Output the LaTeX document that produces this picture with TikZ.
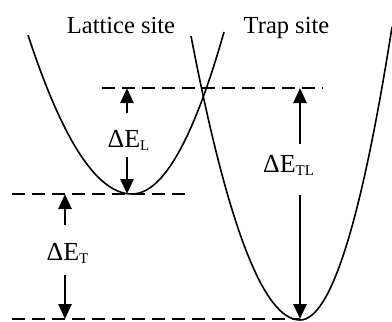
\documentclass[tikz,border=0pt]{standalone}
\usepackage{fontspec}
\setmainfont{Liberation Serif}
\usetikzlibrary{arrows.meta}
\newcommand\lowsub[1]{\raisebox{-3pt}{\fontsize{15}{15}\selectfont #1}}
\begin{document}
\begin{tikzpicture}[x=1pt,y=-1pt,
  curve/.style={line width=1.6pt},
  level/.style={line width=1.5pt, dash pattern=on 13pt off 7pt},
  gaparrow/.style={line width=2.6pt, -{Triangle[length=15pt,width=13pt]}},
  lbl/.style={font=\fontsize{24.5}{28}\selectfont, inner sep=0pt, anchor=base},
  dlbl/.style={font=\fontsize{26}{28}\selectfont, inner sep=0pt, anchor=base},
]
\useasboundingbox (0,0) rectangle (392,322);
% titles
\node[lbl] (lat) at (121,33) {Lattice site};
\node[lbl] (trap) at (286.5,33) {Trap site};
% potential wells
\draw[curve] (28,35) .. controls (62.67,141) and (97.33,194) .. (132,194)
  .. controls (162.67,194) and (193.33,140) .. (224,32);
\draw[curve] (191,36) .. controls (227.33,225.33) and (263.67,320) .. (300,320)
  .. controls (330.67,320) and (361.33,222.33) .. (392,27);
% levels
\coordinate (topL) at (102,88);  \coordinate (topR) at (323,88);
\coordinate (midL) at (12,194);  \coordinate (midR) at (192,194);
\coordinate (botL) at (12,319);  \coordinate (botR) at (300,319);
\draw[level] (topL) -- (topR);
\draw[level] (midL) -- (midR);
\draw[level] (botL) -- (botR);
% labels
\node[dlbl] (dL) at (128.5,147) {ΔE\lowsub{L}};
\node[dlbl] (dT) at (67.5,260) {ΔE\lowsub{T}};
\node[dlbl] (dTL) at (288.5,172) {ΔE\lowsub{TL}};
% arrow ends
\coordinate (aL1) at (127,113); \coordinate (tL1) at (127,88);
\coordinate (aL2) at (127,157); \coordinate (tL2) at (127,194);
\coordinate (aT1) at (65,225);  \coordinate (tT1) at (65,194);
\coordinate (aT2) at (65,275);  \coordinate (tT2) at (65,319);
\coordinate (aTL1) at (300,144); \coordinate (tTL1) at (300,88);
\coordinate (aTL2) at (300,195); \coordinate (tTL2) at (300,319);
\draw[gaparrow] (aL1) -- (tL1);
\draw[gaparrow] (aL2) -- (tL2);
\draw[gaparrow] (aT1) -- (tT1);
\draw[gaparrow] (aT2) -- (tT2);
\draw[gaparrow] (aTL1) -- (tTL1);
\draw[gaparrow] (aTL2) -- (tTL2);
\end{tikzpicture}
\end{document}
